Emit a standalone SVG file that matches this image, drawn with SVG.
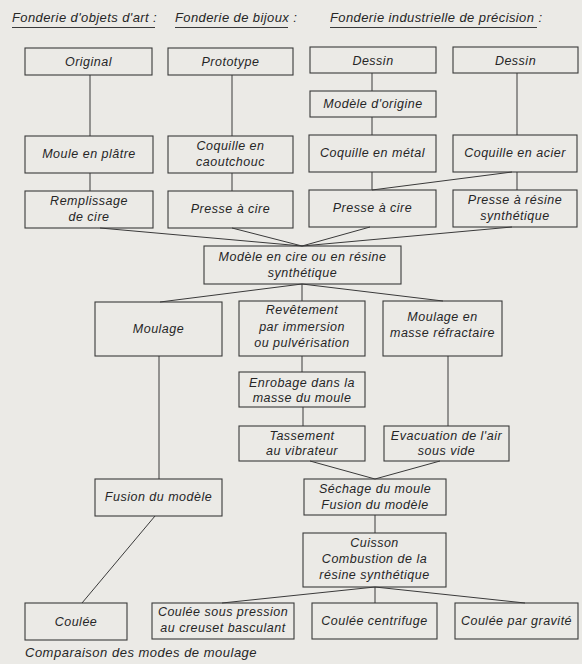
<svg xmlns="http://www.w3.org/2000/svg" width="582" height="664" viewBox="0 0 582 664">
<style>
.bg{fill:#ebeae6}
.box{fill:none;stroke:#3a3a3a;stroke-width:1.1}
.ln{stroke:#3a3a3a;stroke-width:1;fill:none}
text{font-family:"Liberation Sans",Arial,sans-serif;font-style:italic;font-size:12.5px;fill:#262626;text-anchor:middle;letter-spacing:0.5px}
.hd{text-anchor:start;font-size:13px;letter-spacing:0.4px}
.cap{text-anchor:start;font-size:13px;letter-spacing:0.5px}
</style>
<rect class="bg" x="0" y="0" width="582" height="664"/>
<g id="headers">
<text class="hd" x="12" y="22">Fonderie d'objets d'art :</text>
<line class="ln" x1="12" y1="27.5" x2="155" y2="27.5"/>
<text class="hd" x="175" y="22">Fonderie de bijoux :</text>
<line class="ln" x1="175" y1="27.5" x2="288" y2="27.5"/>
<text class="hd" x="330" y="22">Fonderie industrielle de précision :</text>
<line class="ln" x1="330" y1="27.5" x2="537" y2="27.5"/>
</g>
<g id="connectors">
<line class="ln" x1="90" y1="75" x2="90" y2="136"/>
<line class="ln" x1="90" y1="173" x2="90" y2="191"/>
<line class="ln" x1="232" y1="75" x2="232" y2="136"/>
<line class="ln" x1="232" y1="173" x2="232" y2="191"/>
<line class="ln" x1="372" y1="73" x2="372" y2="91"/>
<line class="ln" x1="372" y1="117" x2="372" y2="135"/>
<line class="ln" x1="372" y1="172" x2="372" y2="190"/>
<line class="ln" x1="517" y1="73" x2="517" y2="135"/>
<line class="ln" x1="517" y1="172" x2="517" y2="190"/>
<line class="ln" x1="512" y1="172" x2="372" y2="190"/>
<line class="ln" x1="100" y1="228" x2="302" y2="246"/>
<line class="ln" x1="232" y1="228" x2="302" y2="246"/>
<line class="ln" x1="370" y1="227" x2="302" y2="246"/>
<line class="ln" x1="512" y1="227" x2="302" y2="246"/>
<line class="ln" x1="302" y1="284" x2="160" y2="302"/>
<line class="ln" x1="302" y1="284" x2="302" y2="301"/>
<line class="ln" x1="302" y1="284" x2="443" y2="301"/>
<line class="ln" x1="159" y1="356" x2="159" y2="479"/>
<line class="ln" x1="302" y1="356" x2="302" y2="372"/>
<line class="ln" x1="303" y1="407" x2="303" y2="426"/>
<line class="ln" x1="448" y1="356" x2="448" y2="426"/>
<line class="ln" x1="310" y1="461" x2="375" y2="479"/>
<line class="ln" x1="440" y1="461" x2="375" y2="479"/>
<line class="ln" x1="375" y1="515" x2="375" y2="533"/>
<line class="ln" x1="155" y1="516" x2="82" y2="603"/>
<line class="ln" x1="375" y1="587" x2="222" y2="603"/>
<line class="ln" x1="375" y1="587" x2="375" y2="603"/>
<line class="ln" x1="375" y1="587" x2="525" y2="603"/>
</g>
<g id="original"><rect class="box" x="25" y="48" width="127" height="27"/><text x="88.5" y="66">Original</text></g>
<g id="prototype"><rect class="box" x="168" y="48" width="125" height="27"/><text x="230.5" y="66">Prototype</text></g>
<g id="dessin1"><rect class="box" x="310" y="47" width="126" height="26"/><text x="373" y="65">Dessin</text></g>
<g id="dessin2"><rect class="box" x="453" y="47" width="125" height="26"/><text x="515.5" y="65">Dessin</text></g>
<g id="modele-origine"><rect class="box" x="310" y="91" width="126" height="26"/><text x="373" y="108">Modèle d'origine</text></g>
<g id="moule-platre"><rect class="box" x="25" y="136" width="128" height="37"/><text x="89" y="158">Moule en plâtre</text></g>
<g id="coquille-caoutchouc"><rect class="box" x="168" y="136" width="125" height="37"/><text x="230.5" y="150">Coquille en</text><text x="230.5" y="166">caoutchouc</text></g>
<g id="coquille-metal"><rect class="box" x="309" y="135" width="127" height="37"/><text x="372.5" y="157">Coquille en métal</text></g>
<g id="coquille-acier"><rect class="box" x="453" y="135" width="124" height="37"/><text x="515" y="157">Coquille en acier</text></g>
<g id="remplissage"><rect class="box" x="25" y="191" width="128" height="37"/><text x="89" y="205">Remplissage</text><text x="89" y="221">de cire</text></g>
<g id="presse-cire1"><rect class="box" x="168" y="191" width="125" height="37"/><text x="230.5" y="213">Presse à cire</text></g>
<g id="presse-cire2"><rect class="box" x="309" y="190" width="127" height="37"/><text x="372.5" y="212">Presse à cire</text></g>
<g id="presse-resine"><rect class="box" x="453" y="190" width="124" height="37"/><text x="515" y="204">Presse à résine</text><text x="515" y="220">synthétique</text></g>
<g id="modele-cire"><rect class="box" x="204" y="246" width="197" height="38"/><text x="302.5" y="261">Modèle en cire ou en résine</text><text x="302.5" y="277">synthétique</text></g>
<g id="moulage"><rect class="box" x="95" y="302" width="127" height="54"/><text x="158.5" y="333">Moulage</text></g>
<g id="revetement"><rect class="box" x="239" y="301" width="126" height="55"/><text x="302" y="314">Revêtement</text><text x="302" y="331">par immersion</text><text x="302" y="347">ou pulvérisation</text></g>
<g id="masse-refractaire"><rect class="box" x="383" y="301" width="119" height="55"/><text x="442.5" y="321">Moulage en</text><text x="442.5" y="337">masse réfractaire</text></g>
<g id="enrobage"><rect class="box" x="239" y="372" width="126" height="35"/><text x="302" y="387">Enrobage dans la</text><text x="302" y="402">masse du moule</text></g>
<g id="tassement"><rect class="box" x="239" y="426" width="126" height="35"/><text x="302" y="440">Tassement</text><text x="302" y="455">au vibrateur</text></g>
<g id="evacuation"><rect class="box" x="384" y="426" width="125" height="35"/><text x="446.5" y="440">Evacuation de l'air</text><text x="446.5" y="455">sous vide</text></g>
<g id="fusion"><rect class="box" x="95" y="479" width="127" height="37"/><text x="158.5" y="501">Fusion du modèle</text></g>
<g id="sechage"><rect class="box" x="304" y="479" width="142" height="36"/><text x="375" y="493">Séchage du moule</text><text x="375" y="509">Fusion du modèle</text></g>
<g id="cuisson"><rect class="box" x="303" y="533" width="143" height="54"/><text x="374.5" y="547">Cuisson</text><text x="374.5" y="563">Combustion de la</text><text x="374.5" y="579">résine synthétique</text></g>
<g id="coulee"><rect class="box" x="25" y="603" width="102" height="37"/><text x="76" y="626">Coulée</text></g>
<g id="coulee-pression"><rect class="box" x="152" y="603" width="142" height="36"/><text x="223" y="616">Coulée sous pression</text><text x="223" y="632">au creuset basculant</text></g>
<g id="coulee-centrifuge"><rect class="box" x="312" y="603" width="125" height="36"/><text x="374.5" y="625">Coulée centrifuge</text></g>
<g id="coulee-gravite"><rect class="box" x="455" y="603" width="123" height="36"/><text x="516.5" y="625">Coulée par gravité</text></g>
<text class="cap" x="25" y="657">Comparaison des modes de moulage</text>
</svg>
